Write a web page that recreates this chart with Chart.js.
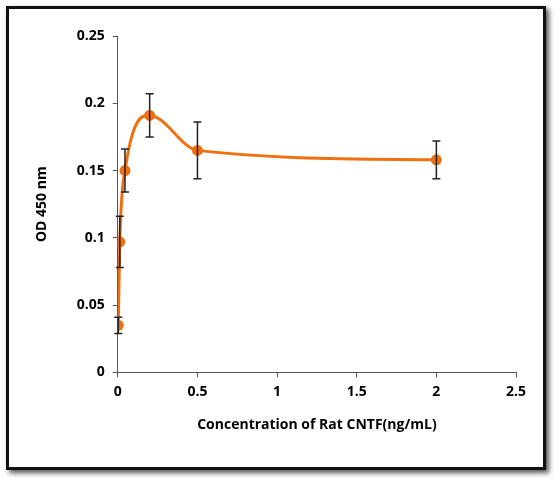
<!DOCTYPE html><html><head><script src="https://cdn.jsdelivr.net/npm/chart.js"></script>
<style>body{margin:0;background:#fff}#f{position:absolute;left:6px;top:6px;width:534px;height:458px;border:3px solid #111;box-shadow:3px 3px 5px #555}#c{position:absolute;left:0;top:0}</style></head><body>
<div id="f"></div><canvas id="c" width="560" height="481"></canvas>
<script>
const conc=[0.003,0.0125,0.045,0.2,0.5,2];
const od=[0.035,0.097,0.150,0.191,0.165,0.158];
const err=[0.006,0.019,0.016,0.016,0.021,0.014];
const eb={id:'eb',afterDatasetsDraw(ch){const c=ch.ctx,x=ch.scales.x,y=ch.scales.y;c.save();c.strokeStyle='#222';c.lineWidth=1.5;
conc.forEach((v,i)=>{const px=x.getPixelForValue(v),t=y.getPixelForValue(od[i]+err[i]),b=y.getPixelForValue(od[i]-err[i]);c.beginPath();c.moveTo(px,t);c.lineTo(px,b);c.moveTo(px-4,t);c.lineTo(px+4,t);c.moveTo(px-4,b);c.lineTo(px+4,b);c.stroke();});c.restore();}};
const f={family:'Open Sans',size:14,weight:'bold'};
const g={drawOnChartArea:false,drawTicks:true,tickLength:5,color:'#555'};
new Chart(document.getElementById('c'),{type:'scatter',plugins:[eb],data:{datasets:[{data:conc.map((v,i)=>({x:v,y:od[i]})),showLine:true,borderColor:'#f07010',backgroundColor:'#f07010',borderWidth:3,pointRadius:4,cubicInterpolationMode:'monotone'}]},
options:{responsive:false,animation:false,layout:{padding:{left:30,right:44,top:36,bottom:44}},plugins:{legend:{display:false},tooltip:{enabled:false}},
scales:{x:{min:0,max:2.5,ticks:{stepSize:0.5,color:'#000',font:f,padding:6,callback:v=>String(+v.toFixed(2))},grid:g,border:{color:'#555'},title:{display:true,text:'Concentration of Rat CNTF(ng/mL)',color:'#000',font:f,padding:{top:10}}},
y:{min:0,max:0.25,ticks:{stepSize:0.05,color:'#000',font:f,padding:8,callback:v=>String(+v.toFixed(3))},grid:g,border:{color:'#555'},title:{display:true,text:'OD 450 nm',color:'#000',font:f,padding:{bottom:18}}}}}});
</script></body></html>
